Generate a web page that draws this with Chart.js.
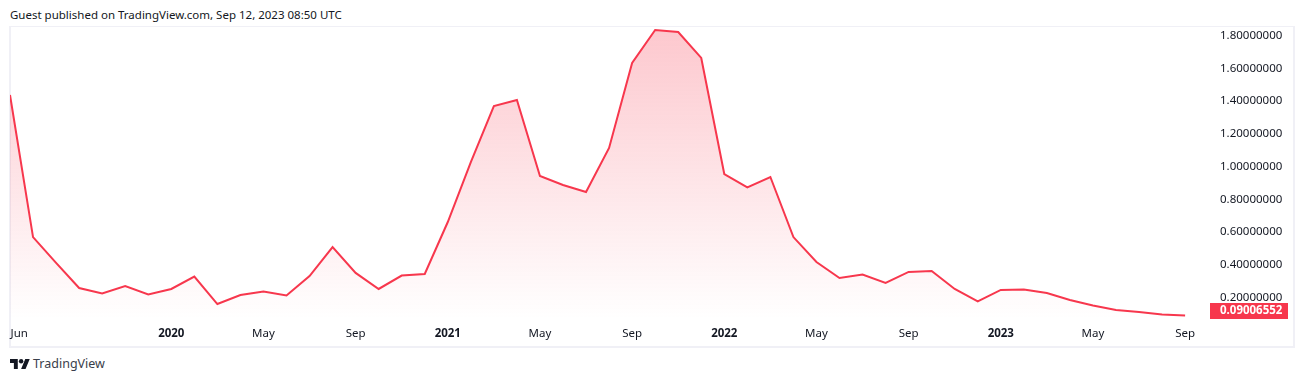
<!DOCTYPE html>
<html>
<head>
<meta charset="utf-8">
<title>TradingView chart</title>
<script src="https://cdn.jsdelivr.net/npm/chart.js@4"></script>
<style>
    body { margin: 0; background: #fff; font-family: "Noto Sans", sans-serif; color: #131722; }
    #header { position: absolute; left: 10px; top: 7px; font-size: 11.5px; line-height: 16px; white-space: nowrap; }
    #frame { position: absolute; left: 9px; top: 26px; width: 1282px; height: 319px; border: 2px solid #f0f0f6; border-top-width: 1px; }
    #footer { position: absolute; left: 10px; top: 356px; height: 16px; font-size: 12.5px; line-height: 16px; color: #3a3e4a; white-space: nowrap; }
    #footer svg { position: absolute; left: 0; top: 2px; }
    #footer span { position: absolute; left: 23px; top: 0; }
    canvas { position: absolute; left: 0; top: 0; }
</style>
</head>
<body>
<div id="header">Guest published on TradingView.com, Sep 12, 2023 08:50 UTC</div>
<div id="frame"></div>
<div id="footer">
    <svg width="20" height="12" viewBox="0 4 36 18"><path fill="#131722" d="M14 22H7V11H0V4h14v18zM28 22h-8l7.5-18h8L28 22z"/><circle fill="#131722" cx="20" cy="8" r="4"/></svg>
    <span>TradingView</span>
</div>
<div style="position:absolute;left:0;top:0;width:1304px;height:382px"><canvas id="priceChart"></canvas></div>

<script>
// monthly closes, Jun 2019 to Sep 2023
const months = [
    'Jun 2019', 'Jul 2019', 'Aug 2019', 'Sep 2019', 'Oct 2019', 'Nov 2019', 'Dec 2019',
    'Jan 2020', 'Feb 2020', 'Mar 2020', 'Apr 2020', 'May 2020', 'Jun 2020', 'Jul 2020', 'Aug 2020', 'Sep 2020', 'Oct 2020', 'Nov 2020', 'Dec 2020',
    'Jan 2021', 'Feb 2021', 'Mar 2021', 'Apr 2021', 'May 2021', 'Jun 2021', 'Jul 2021', 'Aug 2021', 'Sep 2021', 'Oct 2021', 'Nov 2021', 'Dec 2021',
    'Jan 2022', 'Feb 2022', 'Mar 2022', 'Apr 2022', 'May 2022', 'Jun 2022', 'Jul 2022', 'Aug 2022', 'Sep 2022', 'Oct 2022', 'Nov 2022', 'Dec 2022',
    'Jan 2023', 'Feb 2023', 'Mar 2023', 'Apr 2023', 'May 2023', 'Jun 2023', 'Jul 2023', 'Aug 2023', 'Sep 2023'
];
const prices = [
    1.437, 0.569, 0.411, 0.258, 0.224, 0.270, 0.218,
    0.252, 0.328, 0.160, 0.215, 0.237, 0.212, 0.331, 0.508, 0.350, 0.252, 0.334, 0.344,
    0.661, 1.027, 1.369, 1.406, 0.942, 0.887, 0.844, 1.113, 1.632, 1.834, 1.821, 1.663,
    0.954, 0.872, 0.936, 0.569, 0.417, 0.319, 0.340, 0.289, 0.356, 0.362, 0.252, 0.176,
    0.246, 0.249, 0.227, 0.185, 0.151, 0.124, 0.111, 0.096, 0.09006552
];

// x axis labels and the month index they sit on (Jun is nudged in from the edge like on the original)
const xTickLabels = ['Jun', '2020', 'May', 'Sep', '2021', 'May', 'Sep', '2022', 'May', 'Sep', '2023', 'May', 'Sep'];
const xTickPositions = [0.4, 7, 11, 15, 19, 23, 27, 31, 35, 39, 43, 47, 51];
const yTicks = [0.2, 0.4, 0.6, 0.8, 1.0, 1.2, 1.4, 1.6, 1.8];

const RED = '#f7374d';
const FONT = '"Noto Sans", sans-serif';

// red box on the price axis with the last value in it
const lastPriceLabel = {
    id: 'lastPriceLabel',
    afterDraw(chart) {
        const { ctx, chartArea, scales } = chart;
        const last = prices[prices.length - 1];
        // box gets pushed up so it stays above the x axis
        const bottom = Math.min(scales.y.getPixelForValue(last) + 8, chartArea.bottom);
        ctx.save();
        ctx.fillStyle = RED;
        ctx.fillRect(chartArea.right, bottom - 16, 78, 16);
        ctx.fillStyle = '#fff';
        ctx.font = 'bold 11.5px ' + FONT;
        ctx.textBaseline = 'middle';
        ctx.fillText(last.toFixed(8), chartArea.right + 10, bottom - 8);
        ctx.restore();
    }
};

new Chart(document.getElementById('priceChart'), {
    type: 'line',
    data: {
        datasets: [{
            data: prices.map((p, i) => ({ x: i, y: p })),
            borderColor: RED,
            borderWidth: 2,
            pointRadius: 0,
            tension: 0,
            fill: 'start',
            // fades out from the top of the plot to almost white
            backgroundColor(context) {
                const area = context.chart.chartArea;
                if (!area) return 'transparent';
                const g = context.chart.ctx.createLinearGradient(0, area.top, 0, area.bottom);
                g.addColorStop(0, 'rgba(247,55,77,0.28)');
                g.addColorStop(1, 'rgba(247,55,77,0)');
                return g;
            }
        }]
    },
    options: {
        responsive: true,
        maintainAspectRatio: false,
        animation: false,
        layout: { padding: { left: 10, top: 27, right: 12, bottom: 35 } },
        plugins: { legend: { display: false }, tooltip: { enabled: false } },
        scales: {
            x: {
                type: 'linear',
                min: 0,
                max: 52.08,
                grid: { display: false },
                border: { display: false },
                afterFit(scale) { scale.height = 28; },
                afterBuildTicks(scale) { scale.ticks = xTickPositions.map(v => ({ value: v })); },
                ticks: {
                    autoSkip: false,
                    maxRotation: 0,
                    padding: 0,
                    color: '#131722',
                    // years are bold, the font option also gets called once without a tick
                    font(ctx) {
                        const i = ctx.tick ? xTickPositions.indexOf(ctx.tick.value) : -1;
                        return i >= 0 && /^\d/.test(xTickLabels[i]) ? { family: FONT, size: 11.5, weight: 'bold' } : { family: FONT, size: 11.5 };
                    },
                    callback(value) { return xTickLabels[xTickPositions.indexOf(value)]; }
                }
            },
            y: {
                position: 'right',
                min: 0.0687,
                max: 1.852,
                grid: { display: false },
                border: { display: false },
                afterFit(scale) { scale.width = 82; },
                afterBuildTicks(scale) { scale.ticks = yTicks.map(v => ({ value: v })); },
                ticks: {
                    padding: 2,
                    color: '#131722',
                    font: { family: FONT, size: 11.5 },
                    callback(value) { return value.toFixed(8); }
                }
            }
        }
    },
    plugins: [lastPriceLabel]
});
</script>
</body>
</html>
